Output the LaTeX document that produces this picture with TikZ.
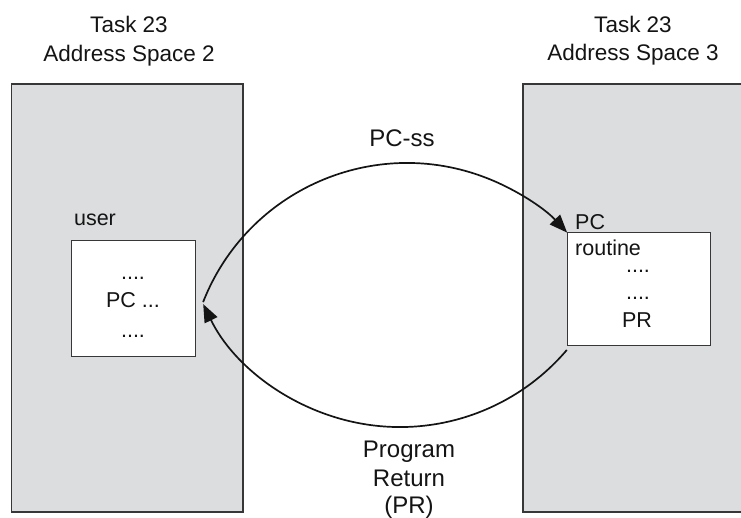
\documentclass[tikz,border=0pt]{standalone}
\usepackage{fontspec}
\setmainfont{Liberation Sans}
\usetikzlibrary{arrows.meta}
\definecolor{panelgray}{RGB}{220,221,223}
\definecolor{edge}{RGB}{55,55,55}
\definecolor{ink}{RGB}{20,20,20}
\tikzset{
  panel/.style={draw=edge, line width=1.3pt, fill=panelgray},
  codebox/.style={draw=edge, line width=1pt, fill=white},
  txt/.style={inner sep=0pt, anchor=base, text=ink},
  title/.style={txt, font=\fontsize{22.5}{27}\selectfont},
  lbl/.style={txt, font=\fontsize{24}{28}\selectfont},
  code/.style={txt, font=\fontsize{21.5}{25}\selectfont},
  flow/.style={draw=ink, line width=1.7pt, -{Triangle[length=18pt,width=14pt]}}
}
\begin{document}
\begin{tikzpicture}[x=1pt,y=1pt]
\useasboundingbox (0,0) rectangle (741,518);

% address space panels
\path[panel] (11.5,6) rectangle (243,434);
\path[panel] (523,6) rectangle (760,434);
\node[title] (t2a) at (129,485) {Task 23};
\node[title] (t2b) at (129,456) {Address Space 2};
\node[title] (t3a) at (633,485) {Task 23};
\node[title] (t3b) at (633,457) {Address Space 3};

% user program
\node[codebox, minimum width=124pt, minimum height=116pt, anchor=south west] (ubox) at (71,161) {};
\node[code] (uname) at (95,292) {user};
\node[code] (ud1) at (133,238) {....};
\node[code] (upc) at (133,210) {PC ...};
\node[code] (ud2) at (133,180) {....};

% called routine
\node[codebox, minimum width=143pt, minimum height=113pt, anchor=south west] (rbox) at (567,172) {};
\node[code, anchor=base west] (rpc) at (575,288) {PC};
\node[code, anchor=base west] (rname) at (575,262) {routine};
\node[code] (rd1) at (638,245) {....};
\node[code] (rd2) at (638,218) {....};
\node[code] (rpr) at (637,190) {PR};

% call and return paths
\coordinate (callfrom) at (203.1,215.9);
\coordinate (retfrom) at (566.8,168);
\path[flow] (callfrom) arc[start angle=158.6, end angle=43, radius=219];
\path[flow] (retfrom) arc[start angle=-40.4, end angle=-154, radius=219];

\node[lbl] (pcss) at (402,371) {PC-ss};
\node[lbl] (pr1) at (409,60) {Program};
\node[lbl] (pr2) at (409,31) {Return};
\node[lbl] (pr3) at (409,4) {(PR)};
\end{tikzpicture}
\end{document}
